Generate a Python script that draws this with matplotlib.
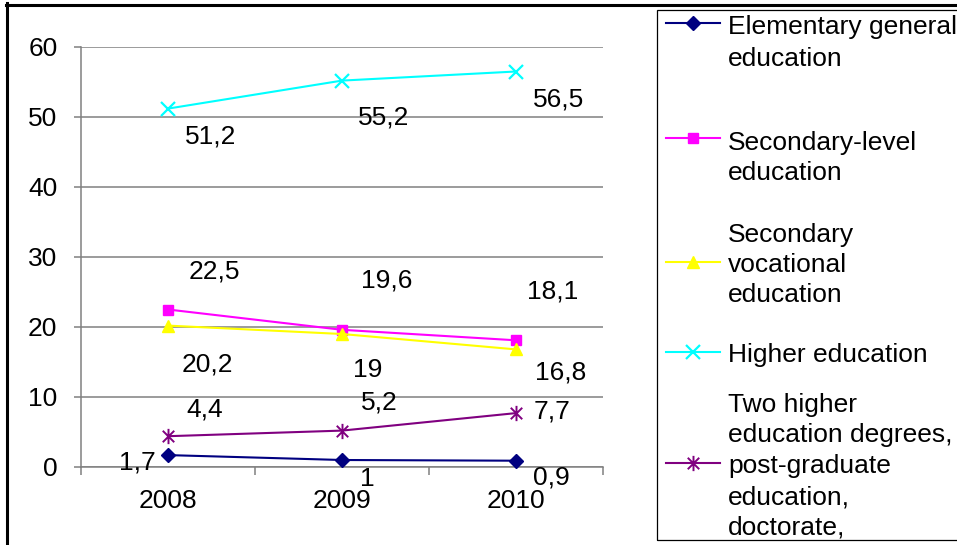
import matplotlib
matplotlib.use("Agg")
import matplotlib.pyplot as plt
from matplotlib.lines import Line2D
from matplotlib.patches import Rectangle
from matplotlib.path import Path

# ---- data -------------------------------------------------------------
years = ["2008", "2009", "2010"]
elementary = [1.7, 1.0, 0.9]
secondary_level = [22.5, 19.6, 18.1]
secondary_vocational = [20.2, 19.0, 16.8]
higher = [51.2, 55.2, 56.5]
two_higher = [4.4, 5.2, 7.7]

series_names = [
    "Elementary general\neducation",
    "Secondary-level\neducation",
    "Secondary\nvocational\neducation",
    "Higher education",
    "Two higher\neducation degrees,\npost-graduate\neducation,\ndoctorate,",
]
y_ticks = [0, 10, 20, 30, 40, 50, 60]

# ---- styling ----------------------------------------------------------
plt.rcParams["font.family"] = ["Liberation Sans", "DejaVu Sans"]
FS = 19
W, H = 957, 545

def fx(x):
    return x / W

def fy(y):
    return 1 - y / H

# asterisk-like marker: vertical bar crossed by an X
star = Path(
    [(0, -1), (0, 1), (-0.75, -0.75), (0.75, 0.75), (-0.75, 0.75), (0.75, -0.75)],
    [Path.MOVETO, Path.LINETO, Path.MOVETO, Path.LINETO, Path.MOVETO, Path.LINETO],
)

styles = [
    dict(color="#000080", marker="D", ms=7.5),
    dict(color="#FF00FF", marker="s", ms=7.5),
    dict(color="#FFFF00", marker="^", ms=9),
    dict(color="#00FFFF", marker="x", ms=10, mew=1.6),
    dict(color="#800080", marker=star, ms=11, mew=1.4),
]
all_series = [elementary, secondary_level, secondary_vocational, higher, two_higher]

# label offsets in pixels (right, down) for every point of each series
label_offsets = [
    [(-31, 7), (25, 19), (35, 17)],
    [(46, -38), (45, -49), (37, -49)],
    [(39, 39), (26, 36), (45, 23)],
    [(43, 28), (42, 37), (43, 28)],
    [(37, -27), (37, -28), (36, -2)],
]

fig = plt.figure(figsize=(W / 100, H / 100), dpi=100)
ax = fig.add_axes([fx(81), 1 - 467 / H, (603 - 81) / W, (467 - 47) / H])

xs = list(range(len(years)))
for vals, st, offs in zip(all_series, styles, label_offsets):
    ax.plot(xs, vals, color=st["color"], lw=1.5, marker=st["marker"],
            ms=st["ms"], mew=st.get("mew", 1.0), mec=st["color"], mfc=st["color"],
            zorder=3, clip_on=False)
    for x, v, (dx, dy) in zip(xs, vals, offs):
        ax.annotate(f"{v:g}".replace(".", ","), (x, v), xytext=(dx, -dy),
                    textcoords="offset pixels", ha="center", va="center",
                    fontsize=FS, color="black", zorder=4)

grey = "#808080"
ax.set_xlim(-0.5, len(years) - 0.5)
ax.set_ylim(0, 60)
ax.set_yticks(y_ticks)
ax.yaxis.grid(True, color=grey, lw=1.1)
ax.set_axisbelow(True)
ax.set_xticks(xs)
ax.set_xticklabels(years)
ax.set_xticks([x - 0.5 for x in range(len(years) + 1)], minor=True)
ax.tick_params(axis="x", which="major", length=0, pad=16, labelsize=FS)
ax.tick_params(axis="x", which="minor", length=6, color=grey, width=1.1)
ax.tick_params(axis="y", length=5, color=grey, width=1.1, pad=12, labelsize=FS)
for side in ("top", "right"):
    ax.spines[side].set_visible(False)
for side in ("left", "bottom"):
    ax.spines[side].set_color(grey)
    ax.spines[side].set_linewidth(1.1)

# ---- outer frame -------------------------------------------------------
fig.add_artist(Line2D([fx(7.5), fx(7.5)], [fy(3), fy(545)], color="black", lw=2.2))
fig.add_artist(Line2D([fx(6), fx(957)], [fy(4.5), fy(4.5)], color="black", lw=2.2))

# ---- legend ------------------------------------------------------------
fig.add_artist(Rectangle((fx(657), fy(540)), (965 - 657) / W, (540 - 10) / H,
                         transform=fig.transFigure, fill=False, ec="black", lw=0.9))
marker_rows = [23, 138, 262, 352, 463]
line_baselines = [
    [34, 66],
    [150, 180],
    [242, 272, 302],
    [362],
    [412, 442, 473, 504, 535],
]
for name, st, my, bases in zip(series_names, styles, marker_rows, line_baselines):
    fig.add_artist(Line2D([fx(666), fx(720)], [fy(my), fy(my)], color=st["color"], lw=1.5))
    fig.add_artist(Line2D([fx(693)], [fy(my)], color=st["color"], marker=st["marker"],
                          ms=st["ms"], mew=st.get("mew", 1.0), mec=st["color"],
                          mfc=st["color"], lw=0))
    for text, b in zip(name.split("\n"), bases):
        fig.text(fx(728), fy(b), text, fontsize=FS, ha="left", va="baseline")

fig.savefig("out.png", dpi=100)
